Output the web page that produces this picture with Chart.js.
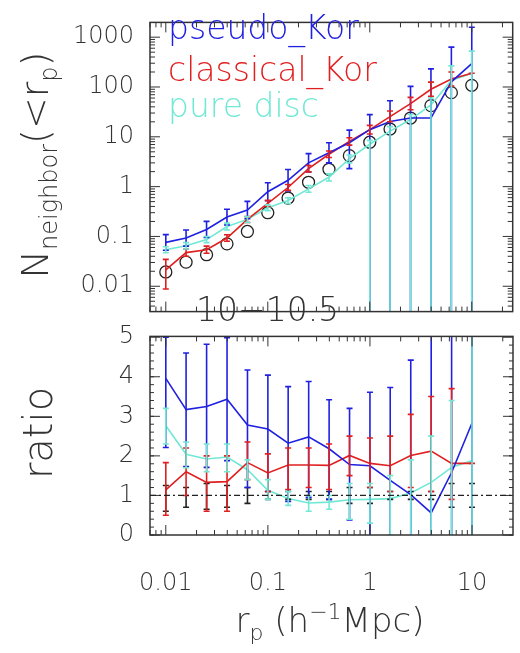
<!DOCTYPE html>
<html><head><meta charset="utf-8">
<script src="https://cdn.jsdelivr.net/npm/chart.js@4/dist/chart.umd.min.js"></script>
<style>
body{margin:0;width:520px;height:653px;background:#fff;position:relative;overflow:hidden;font-family:"DejaVu Sans";font-weight:200;color:#333}
canvas{position:absolute;left:0}
.lab{position:absolute;white-space:nowrap;font-weight:200;color:#333}
</style></head><body>
<canvas id="top" style="top:0" width="520" height="334"></canvas>
<canvas id="bot" style="top:314px" width="520" height="339"></canvas>
<div class="lab" style="left:38px;top:165px;font-size:38px;transform:translate(-50%,-50%) rotate(-90deg)">N<sub style="font-size:24px">neighbor</sub>(&lt;r<sub style="font-size:24px">p</sub>)</div>
<div class="lab" style="left:38px;top:433px;font-size:40px;transform:translate(-50%,-50%) rotate(-90deg)">ratio</div>
<div class="lab" style="left:330px;top:622px;font-size:34px;transform:translate(-50%,-50%)">r<sub style="font-size:22px">p</sub> (h<sup style="font-size:22px">−1</sup>Mpc)</div>
<div class="lab" style="left:168px;top:8px;font-size:33px;color:#2020e0">pseudo_Kor</div>
<div class="lab" style="left:168px;top:50px;font-size:33px;color:#e02020">classical_Kor</div>
<div class="lab" style="left:168px;top:86px;font-size:33px;color:#70e8d4">pure disc</div>
<div class="lab" style="left:196px;top:290px;font-size:33px;color:#333">10−10.5</div>
<script>
const rp=[0.01,0.0158,0.0251,0.0398,0.0631,0.1,0.158,0.251,0.398,0.631,1,1.58,2.51,3.98,6.31,10];
const pseudoN=[0.076,0.093,0.138,0.245,0.338,0.79,1.34,3.0,4.78,7.6,13.9,20.3,23.8,23.8,127,295];
const pseudoNHi=[0.109,0.135,0.201,0.352,0.506,1.2,2.2,4.6,7.6,13.6,27.9,53,103,231,630,1580];
const pseudoNLo=[0.053,0.064,0.095,0.17,0.226,0.52,0.82,1.96,3.0,2.3,0.001,0.001,0.001,0.001,0.001,0.001];
const classicalN=[0.0213,0.0474,0.054,0.093,0.22,0.46,0.96,2.29,4.47,8.1,13.9,25.5,46.5,90,145,189];
const classicalNHi=[0.0347,0.056,0.064,0.108,0.25,0.53,1.1,2.65,5.2,9.6,17,33,62,125,200,189];
const classicalNLo=[0.0088,0.04,0.046,0.08,0.19,0.4,0.84,1.98,3.85,6.8,11.4,20,35,65,105,189];
const discN=[0.054,0.065,0.0865,0.158,0.22,0.377,0.526,0.9,1.54,3.65,7.1,13.0,22.2,43.5,135,189];
const discNHi=[0.062,0.075,0.1,0.185,0.25,0.43,0.6,1.05,1.8,4.3,8.5,16,28,60,265,525];
const discNLo=[0.047,0.056,0.075,0.135,0.19,0.33,0.46,0.77,1.3,3.0,0.001,0.001,0.001,0.001,0.001,0.001];
const obsN=[0.0194,0.0305,0.043,0.071,0.126,0.30,0.59,1.22,2.23,4.19,7.8,14.3,23.8,42.3,77,108];
const pseudoR=[3.96,3.17,3.25,3.43,2.78,2.68,2.32,2.48,2.18,1.78,1.75,1.38,1.02,0.56,1.58,2.83];
const pseudoRHi=[5,4.6,4.82,4.99,4.17,4.04,3.75,3.88,3.42,3.2,3.61,3.73,4.42,6,6,6];
const pseudoRLo=[2.21,1.73,1.71,1.88,1.2,1.1,0.85,0.95,0.9,0.38,-1,-1,-1,-1,-1,-1];
const classicalR=[1.14,1.60,1.33,1.35,1.83,1.57,1.77,1.77,1.76,2.01,1.81,1.75,2.01,2.12,1.81,1.81];
const classicalRHi=[1.83,2.2,2.0,2.0,2.35,2.05,2.2,2.2,2.3,2.5,2.45,2.5,3.05,3.5,3.7,1.81];
const classicalRLo=[0.5,1.0,0.6,0.6,1.4,1.1,1.15,1.2,1.15,1.5,1.2,1.1,1.2,1.1,0.9,1.81];
const discR=[2.76,2.04,1.92,1.97,1.65,1.13,0.92,0.81,0.83,0.89,0.90,0.92,1.06,1.33,1.71,1.88];
const discRHi=[3.2,2.35,2.3,2.3,1.9,1.4,1.1,1.0,1.0,1.3,1.3,1.5,1.9,2.5,3.4,5.5];
const discRLo=[2.3,1.7,1.6,1.6,1.4,0.9,0.75,0.6,0.65,0.4,0.3,0.0,-1,-1,-1,-1];
const obsR=[1,1,1,1,1,1,1,1,1,1,1,1,1,1,1,1];
const obsRHi=[1.25,1.2,1.3,1.25,1.2,1.1,1.1,1.1,1.1,1.2,1.2,1.1,1.1,1.1,1.3,1.3];
const obsRLo=[0.6,0.7,0.65,0.7,0.8,0.9,0.9,0.9,0.9,0.8,0.8,0.9,0.9,0.9,0.7,0.7];
const yTopTicks=[0.01,0.1,1,10,100,1000];
const yTopLabels=['0.01','0.1','1','10','100','1000'];
const yBotTicks=[0,1,2,3,4,5];
const xTicks=[0.01,0.1,1,10];
const xLabels=['0.01','0.1','1','10'];

const BLUE='#2020e0',RED='#e02020',CYAN='#70e8d4',BLACK='#222';
const pts=a=>a.map((v,i)=>({x:rp[i],y:v}));
function ds(d,c,hi,lo,extra){return Object.assign({data:pts(d),borderColor:c,backgroundColor:c,borderWidth:1.6,pointRadius:0,fill:false,tension:0,hi:hi,lo:lo},extra||{});}
const errPlug={id:'err',afterDatasetsDraw(ch){const c=ch.ctx,xs=ch.scales.x,ys=ch.scales.y,a=ch.chartArea;
 c.save();c.beginPath();c.rect(a.left,a.top,a.right-a.left,a.bottom-a.top);c.clip();
 ch.data.datasets.forEach(d=>{if(!d.hi)return;c.strokeStyle=d.ebColor||d.borderColor;c.lineWidth=1.6;
  d.data.forEach((p,i)=>{const x=xs.getPixelForValue(p.x);const yh=ys.getPixelForValue(d.hi[i]);const yl=ys.getPixelForValue(d.lo[i]);
   c.beginPath();c.moveTo(x,yh);c.lineTo(x,yl);c.moveTo(x-3,yh);c.lineTo(x+3,yh);c.moveTo(x-3,yl);c.lineTo(x+3,yl);c.stroke();});});
 c.restore();}};
const framePlug={id:'frame',afterDraw(ch){const c=ch.ctx,a=ch.chartArea,xs=ch.scales.x,ys=ch.scales.y;c.save();c.strokeStyle='#333';c.lineWidth=1.5;
 c.strokeRect(a.left,a.top,a.right-a.left,a.bottom-a.top);c.lineWidth=1;
 const tick=(x,len)=>{c.beginPath();c.moveTo(x,a.top);c.lineTo(x,a.top+len);c.moveTo(x,a.bottom);c.lineTo(x,a.bottom-len);c.stroke();};
 for(let e=-3;e<=1;e++)for(let m=1;m<10;m++){const v=m*Math.pow(10,e);if(v<xs.min||v>xs.max)continue;tick(xs.getPixelForValue(v),m==1?10:5);}
 ys.ticks.forEach(t=>{const y=ys.getPixelForValue(t.value);c.beginPath();c.moveTo(a.left,y);c.lineTo(a.left+10,y);c.moveTo(a.right,y);c.lineTo(a.right-10,y);c.stroke();});
 if(ch.options.ratio){for(let v=0;v<5;v+=0.2){const y=ys.getPixelForValue(v);c.beginPath();c.moveTo(a.left,y);c.lineTo(a.left+4,y);c.moveTo(a.right,y);c.lineTo(a.right-4,y);c.stroke();}
  c.setLineDash([6,3,2,3]);c.lineWidth=1.3;c.strokeStyle='#222';const y1=ys.getPixelForValue(1);c.beginPath();c.moveTo(a.left,y1);c.lineTo(a.right,y1);c.stroke();}
 else {for(let e=-3;e<=3;e++)for(let m=2;m<10;m++){const v=m*Math.pow(10,e);if(v<ys.min||v>ys.max)continue;const y=ys.getPixelForValue(v);c.beginPath();c.moveTo(a.left,y);c.lineTo(a.left+5,y);c.moveTo(a.right,y);c.lineTo(a.right-5,y);c.stroke();}}
 c.restore();}};
const tickFont={family:'DejaVu Sans',size:24,weight:200};
function xScale(show){return {type:'logarithmic',min:0.007,max:25.2,display:show,grid:{display:false},border:{display:false},
 afterBuildTicks:s=>{s.ticks=xTicks.map(v=>({value:v}));},
 ticks:{font:tickFont,color:'#333',padding:26,maxRotation:0,callback:(v)=>xLabels[xTicks.indexOf(v)]??''},
 afterFit:s=>{if(show)s.height=118;}};}
new Chart(document.getElementById('top'),{type:'line',
 data:{datasets:[ds(pseudoN,BLUE,pseudoNHi,pseudoNLo),ds(classicalN,RED,classicalNHi,classicalNLo),ds(discN,CYAN,discNHi,discNLo),
  {data:pts(obsN),showLine:false,pointRadius:6,pointStyle:'circle',borderColor:BLACK,backgroundColor:'rgba(0,0,0,0)',borderWidth:1.3}]},
 options:{animation:false,responsive:false,layout:{padding:{left:0,right:7,top:0,bottom:0}},plugins:{legend:{display:false},tooltip:{enabled:false}},
  scales:{x:xScale(false),y:{type:'logarithmic',min:0.0031,max:1980,grid:{display:false},border:{display:false},
   afterBuildTicks:s=>{s.ticks=yTopTicks.map(v=>({value:v}));},
   ticks:{font:tickFont,color:'#333',padding:8,callback:v=>yTopLabels[yTopTicks.indexOf(v)]??''},afterFit:s=>{s.width=150;}}}},
 plugins:[errPlug,framePlug]});
new Chart(document.getElementById('bot'),{type:'line',
 data:{datasets:[ds(obsR,'rgba(0,0,0,0)',obsRHi,obsRLo,{ebColor:BLACK}),ds(pseudoR,BLUE,pseudoRHi,pseudoRLo),ds(classicalR,RED,classicalRHi,classicalRLo),ds(discR,CYAN,discRHi,discRLo)]},
 options:{ratio:true,animation:false,responsive:false,layout:{padding:{left:0,right:7,top:0,bottom:0}},plugins:{legend:{display:false},tooltip:{enabled:false}},
  scales:{x:xScale(true),y:{type:'linear',min:0,max:5.02,grid:{display:false},border:{display:false},
   afterBuildTicks:s=>{s.ticks=yBotTicks.map(v=>({value:v}));},
   ticks:{font:tickFont,color:'#333',padding:8,callback:v=>String(v)},afterFit:s=>{s.width=150;}}}},
 plugins:[errPlug,framePlug]});
</script></body></html>
